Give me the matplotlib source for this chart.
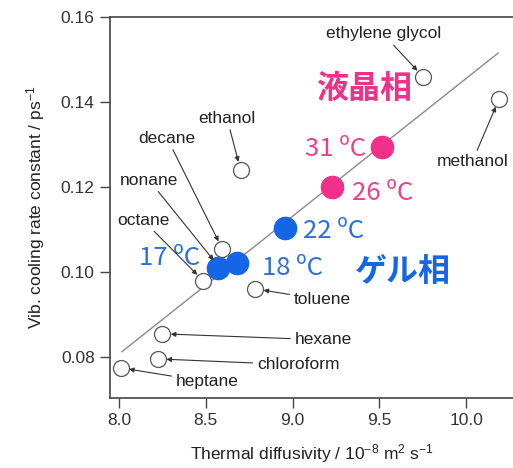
import matplotlib
matplotlib.use("Agg")
import matplotlib.pyplot as plt

plt.rcParams['font.family'] = ['Liberation Sans', 'DejaVu Sans']
plt.rcParams['mathtext.default'] = 'regular'

# Solvents (open circles)
solvents = ["heptane", "chloroform", "hexane", "octane", "nonane", "decane",
            "toluene", "ethanol", "ethylene glycol", "methanol"]
solv_x = [8.01, 8.225, 8.25, 8.485, 8.575, 8.595, 8.785, 8.70, 9.752, 10.19]
solv_y = [0.0774, 0.0795, 0.0854, 0.0979, 0.1012, 0.1054, 0.0960, 0.1240, 0.1459, 0.1407]
# label positions (data coordinates of text centre)
lab_x = [8.507, 9.032, 9.176, 8.138, 8.173, 8.277, 9.170, 8.622, 9.522, 10.035]
lab_y = [0.0741, 0.0781, 0.0840, 0.1122, 0.1216, 0.1315, 0.0934, 0.1362, 0.1560, 0.1259]

# Gel phase (blue)
gel_temps = ["17 ºC", "18 ºC", "22 ºC"]
gel_x = [8.571, 8.680, 8.957]
gel_y = [0.1009, 0.1021, 0.1104]
# Liquid-crystal phase (pink)
lc_temps = ["26 ºC", "31 ºC"]
lc_x = [9.228, 9.516]
lc_y = [0.1200, 0.1294]

# Linear fit line
fit_x = [8.017, 10.184]
fit_y = [0.0812, 0.1515]

xticks = [8.0, 8.5, 9.0, 9.5, 10.0]
yticks = [0.08, 0.10, 0.12, 0.14, 0.16]

pink = "#f0308a"
pink_t = "#e9418f"
blue = "#1566e4"
blue_t = "#2a6fdc"

fig = plt.figure(figsize=(5.13, 4.68), dpi=100)
ax = fig.add_axes([0.2144, 0.1496, 0.7856, 0.8141])
ax.set_xlim(7.948, 10.27)
ax.set_ylim(0.0703, 0.16)

ax.plot(fit_x, fit_y, color="#8a8a8a", lw=1.0, zorder=2)
ax.plot(solv_x, solv_y, 'o', ms=11.5, mfc='white', mec='#555555', mew=0.9, zorder=3)
ax.plot(gel_x, gel_y, 'o', ms=16, color=blue, zorder=4)
ax.plot(lc_x, lc_y, 'o', ms=16, color=pink, zorder=4)

for name, sx, sy, tx, ty in zip(solvents, solv_x, solv_y, lab_x, lab_y):
    ax.annotate(name, xy=(sx, sy), xytext=(tx, ty), ha='center', va='center',
                fontsize=12.5, color='#222222', zorder=5,
                arrowprops=dict(arrowstyle='-|>', color='#333333', lw=0.8,
                                mutation_scale=7, shrinkA=1, shrinkB=6))

tfont = ['Noto Sans CJK JP', 'DejaVu Sans']
# temperature labels
ax.text(8.467, 0.1016, gel_temps[0], ha='right', va='baseline', fontsize=18.5, color=blue_t, family=tfont)
ax.text(8.824, 0.0993, gel_temps[1], ha='left', va='baseline', fontsize=18.5, color=blue_t, family=tfont)
ax.text(9.061, 0.1080, gel_temps[2], ha='left', va='baseline', fontsize=18.5, color=blue_t, family=tfont)
ax.text(9.343, 0.1169, lc_temps[0], ha='left', va='baseline', fontsize=18.5, color=pink_t, family=tfont)
ax.text(9.424, 0.1273, lc_temps[1], ha='right', va='baseline', fontsize=18.5, color=pink_t, family=tfont)

ax.text(9.412, 0.1431, "液晶相", ha='center', va='center', fontsize=23, color=pink,
        fontweight='bold', family=tfont)
ax.text(9.637, 0.1000, "ゲル相", ha='center', va='center', fontsize=23, color=blue,
        fontweight='bold', family=tfont)

ax.set_xticks(xticks)
ax.set_xticklabels([f"{v:.1f}" for v in xticks])
ax.set_yticks(yticks)
ax.set_yticklabels([f"{v:.2f}" for v in yticks])
ax.tick_params(direction='out', length=7, width=1.0, color='#444444',
               labelsize=12.5, labelcolor='#333333', pad=4)
for s in ['left', 'bottom', 'top']:
    ax.spines[s].set_color('#444444')
    ax.spines[s].set_linewidth(1.2)
ax.spines['right'].set_visible(False)

ax.set_xlabel("Thermal diffusivity / 10$^{-8}$ m$^{2}$ s$^{-1}$", fontsize=12.5, color='#222222', labelpad=10)
ax.set_ylabel("Vib. cooling rate constant / ps$^{-1}$", fontsize=12.5, color='#222222', labelpad=10)

fig.savefig("out.png", dpi=100)
